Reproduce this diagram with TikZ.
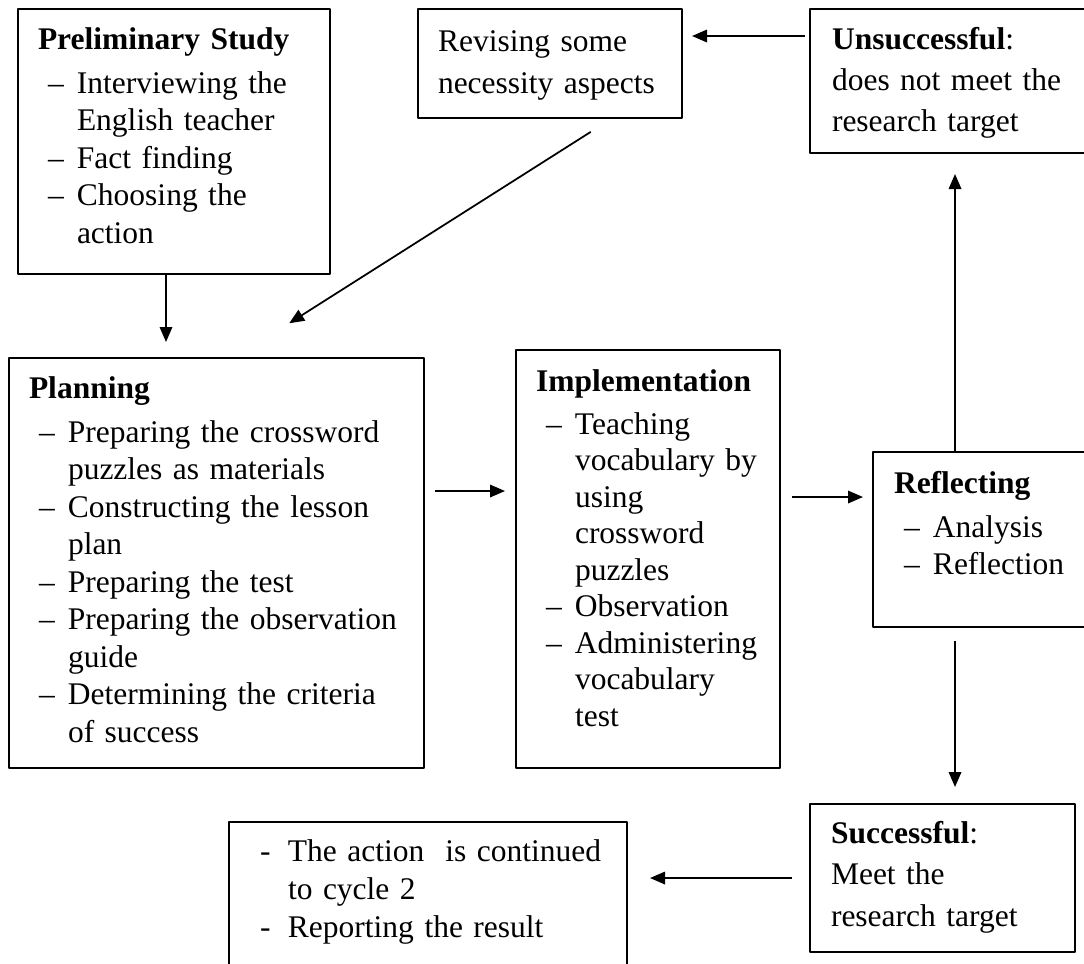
\documentclass[tikz,border=0pt]{standalone}
\usepackage{fontspec}
\setmainfont{Liberation Serif}
\usepackage{tikz}
\usetikzlibrary{arrows.meta}

\setlength{\parindent}{0pt}
\hyphenpenalty=10000
\exhyphenpenalty=10000
\newcommand{\stagehead}[1]{\textbf{#1}\par\vspace{2.6pt}}
\newcommand{\dashitem}[1]{\noindent\hangindent=15.6pt\hangafter=1\makebox[15.6pt][l]{\hspace*{4pt}\textendash}#1\par}
\newcommand{\hyphitem}[1]{\noindent\hangindent=11.2pt\hangafter=1\makebox[11.2pt][l]{-}#1\par}

\tikzset{
	stage/.style={draw, line width=0.8pt, anchor=north west, align=left, inner ysep=0pt, inner xsep=8pt, font=\fontsize{12.6}{15}\selectfont},
	flow/.style={->, line width=0.7pt},
}

\begin{document}
\begin{tikzpicture}[>={Triangle[length=6pt,width=5pt]}, line join=bevel, x=0.4pt, y=-0.4pt]
		\useasboundingbox (0,0) rectangle (1084,963);
		\clip (0,0) rectangle (1084,963);
		\node (prelim) at (17,8) [stage, text width=108.8pt, text height=16pt, text depth=90pt] {\stagehead{Preliminary Study}
			\dashitem{Interviewing the\newline English teacher}
			\dashitem{Fact finding}
			\dashitem{Choosing the\newline action}};
		\node (revise) at (417,8) [stage, text width=89.6pt, text height=16.8pt, text depth=26.8pt, font=\fontsize{12.6}{16.8}\selectfont] {Revising some\\necessity aspects};
		\node (fail) at (809,8) [stage, inner xsep=8.8pt, text width=96.8pt, text height=16pt, text depth=41.6pt, font=\fontsize{12.6}{16.4}\selectfont] {\textbf{Unsuccessful}:\\does not meet the\\research target};
		\node (plan) at (8,357) [stage, text width=150pt, text height=16pt, text depth=148pt] {\stagehead{Planning}
			\dashitem{Preparing the crossword\newline puzzles as materials}
			\dashitem{Constructing the lesson\newline plan}
			\dashitem{Preparing the test}
			\dashitem{Preparing the observation\newline guide}
			\dashitem{Determining the criteria\newline of success}};
		\node (impl) at (515,349) [stage, text width=89.6pt, text height=16.4pt, text depth=150.8pt, font=\fontsize{12.6}{14.6}\selectfont] {\stagehead{Implementation}
			\dashitem{Teaching\newline vocabulary by\newline using\newline crossword\newline puzzles}
			\dashitem{Observation}
			\dashitem{Administering\newline vocabulary\newline test}};
		\node (refl) at (872,451) [stage, inner xsep=8.4pt, text width=72.4pt, text height=16.4pt, text depth=53.6pt] {\stagehead{Reflecting}
			\dashitem{Analysis}
			\dashitem{Reflection}};
		\node (succ) at (809,803) [stage, inner xsep=8.4pt, text width=89.2pt, text height=15.6pt, text depth=43.6pt, font=\fontsize{12.6}{16.6}\selectfont] {\textbf{Successful}:\\Meet the\\research target};
		\node (cont) at (228,821) [stage, inner xsep=12.4pt, text width=134.4pt, text height=15.6pt, text depth=52pt, font=\fontsize{12.6}{15.2}\selectfont] {\hyphitem{\mbox{The action\ \ is continued}\newline to cycle 2}
			\hyphitem{Reporting the result}};
		\draw [flow, shorten >=6pt] ([xshift=-3.2pt]prelim.south) -- ([xshift=-3.2pt]prelim.south |- plan.north);
		\draw [flow, shorten <=9.6pt, shorten >=25.2pt] ([xshift=24.4pt]revise.south) -- ([xshift=7.8pt]plan.north);
		\draw [flow, shorten <=1.6pt, shorten >=3.6pt] ([yshift=18pt]fail.west) -- ([yshift=18pt]fail.west -| revise.east);
		\draw [flow, shorten <=4pt, shorten >=4pt] ([yshift=28.8pt]plan.east) -- ([yshift=28.8pt]plan.east -| impl.west);
		\draw [flow, shorten <=4.4pt, shorten >=3.6pt] ([yshift=24.8pt]impl.east) -- ([yshift=24.8pt]impl.east -| refl.west);
		\draw [flow, shorten >=8pt] ([xshift=-11.8pt]refl.north) -- ([xshift=-11.8pt]refl.north |- fail.south);
		\draw [flow, shorten <=5.2pt, shorten >=6.4pt] ([xshift=-11.8pt]refl.south) -- ([xshift=-11.8pt]refl.south |- succ.north);
		\draw [flow, shorten <=6.8pt, shorten >=8.8pt] (succ.west) -- (succ.west -| cont.east);
	\end{tikzpicture}
\end{document}
